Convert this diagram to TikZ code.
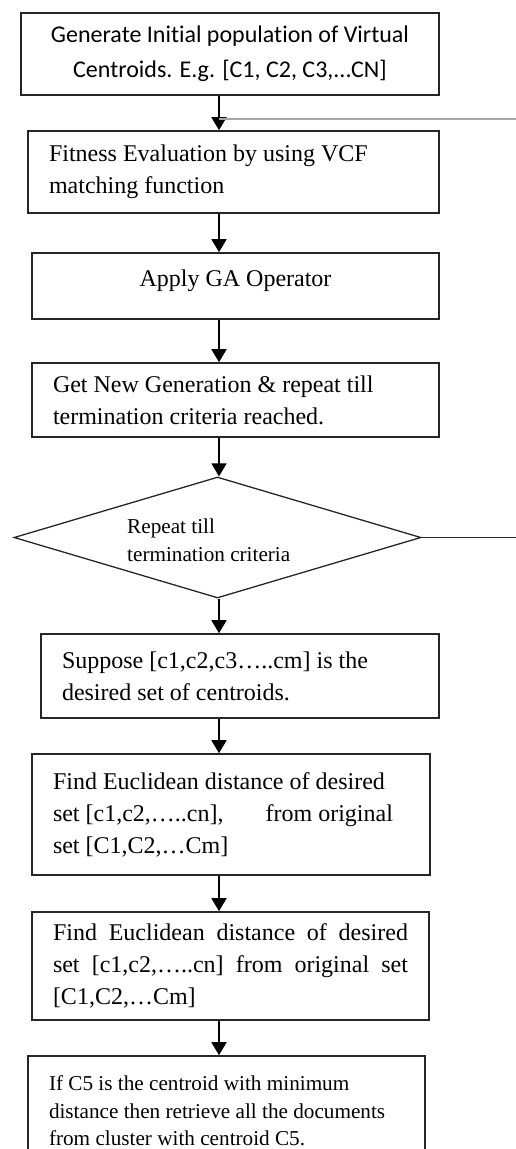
\documentclass[tikz,border=0pt]{standalone}
\usepackage{fontspec}
\setmainfont{Liberation Serif}
\newfontfamily\carlito[Ligatures=NoCommon]{Carlito}
\usepackage{tikz}
\usetikzlibrary{arrows.meta, shapes.geometric}
\newcommand{\boxfont}{\fontsize{24}{32}\selectfont}
\newcommand{\smallboxfont}{\fontsize{21.2}{27.5}\selectfont}
\newcommand{\sansboxfont}{\carlito\fontsize{24}{35}\selectfont}

\begin{document}
\begin{tikzpicture}[
      x=1pt, y=-1pt,
      stepbox/.style={draw=black!85, line width=1.6pt, inner xsep=21pt, inner ysep=0pt, font=\boxfont},
      decision/.style={diamond, draw=black!85, line width=1.3pt, inner sep=0pt},
      arrow/.style={-{Triangle[length=13pt, width=15pt]}, line width=1.7pt, black},
      loopline/.style={line width=1.6pt, gray!70},
      loopback/.style={line width=1.2pt, black!85},
      lab/.style={font=\smallboxfont, align=flush left, inner sep=0pt}
    ]
      \useasboundingbox (0,0) rectangle (516,1149);
      \coordinate (axis) at (219,0);

      % Main boxes
      \node[stepbox, font=\sansboxfont, align=center, minimum width=418pt, minimum height=82pt]
        (init)
        at
        (230,54)
        { Generate Initial population of Virtual\\ Centroids. E.g. [C1, C2, C3,...CN] };

      \node[stepbox, text width=369pt, align=flush left, minimum height=82pt]
        (fitness)
        at
        (233.5,172)
        { Fitness Evaluation by using VCF\\ matching function };

      \node[stepbox, minimum width=407pt, minimum height=66pt, text height=17pt, text depth=17pt]
        (gaop)
        at
        (235.5,286)
        { Apply GA Operator };

      \node[stepbox, text width=365pt, align=flush left, minimum height=74pt]
        (newgen)
        at
        (235.5,400)
        { Get New Generation \& repeat till\\ termination criteria reached. };

      % Decision
      \node[decision, minimum width=407pt, minimum height=121pt]
        (repeat)
        at
        (217.5,537.5)
        {};
      \node[lab, anchor=west]
        (repeattext)
        at
        (127,540)
        { Repeat till\\ termination criteria };

      \node[stepbox, text width=356pt, align=flush left, minimum height=84pt]
        (suppose)
        at
        (240,676)
        { Suppose [c1,c2,c3…..cm] is the\\ desired set of centroids. };

      \node[stepbox, text width=356pt, align=flush left, minimum height=121pt]
        (dista)
        at
        (231,814.5)
        { Find Euclidean distance of desired\\ set [c1,c2,…..cn],\hspace{36pt} from original\\ set [C1,C2,…Cm] };

      \node[stepbox, text width=355pt, align=justify, minimum height=108pt]
        (distb)
        at
        (230.5,966)
        { Find Euclidean distance of desired\linebreak{} set [c1,c2,…..cn] from original set\linebreak{} [C1,C2,…Cm] };

      \node[stepbox, font=\smallboxfont, text width=355pt, align=flush left, minimum height=110pt]
        (retrieve)
        at
        (226.5,1111)
        { If C5 is the centroid with minimum\\ distance then retrieve all the documents\\ from cluster with centroid C5. };

      % Flow arrows
      \draw[arrow] (init.south -| axis) -- (fitness.north -| axis);
      \draw[arrow] (fitness.south -| axis) -- (gaop.north -| axis);
      \draw[arrow] (gaop.south -| axis) -- (newgen.north -| axis);
      \draw[arrow] (newgen.south -| axis) -- (repeat.north -| axis);
      \draw[arrow] (repeat.south -| axis) -- (suppose.north -| axis);
      \draw[arrow] (suppose.south -| axis) -- (dista.north -| axis);
      \draw[arrow] (dista.south -| axis) -- (distb.north -| axis);
      \draw[arrow] (distb.south -| axis) -- (retrieve.north -| axis);

      % Loop back lines (cut at the right edge)
      \coordinate (loopin) at (516,119);
      \coordinate (loopout) at (516,542);
      \draw[loopline] (loopin) -- (loopin -| axis);
      \draw[loopback] (repeat.east) -- (repeat.east -| loopout);
    \end{tikzpicture}
\end{document}
